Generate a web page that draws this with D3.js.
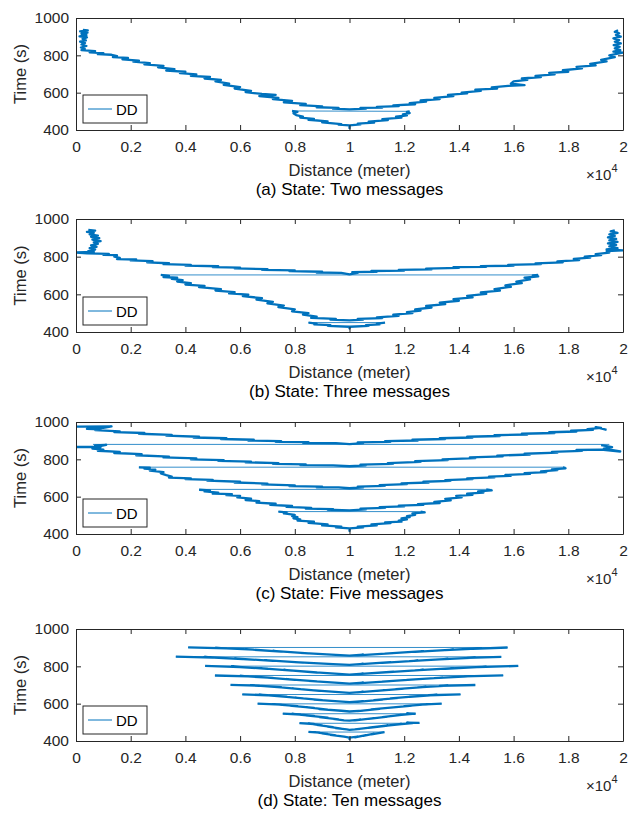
<!DOCTYPE html>
<html><head><meta charset="utf-8">
<script src="https://cdn.jsdelivr.net/npm/d3@7"></script>
<style>
body{margin:0;background:#fff}
svg{display:block}
text{font-family:"Liberation Sans",Arial,Helvetica,sans-serif}
</style>
</head><body>
<svg id="chart" width="628" height="813"></svg>
<script>
// ---------------- data ----------------
const xTickValues = [0,2000,4000,6000,8000,10000,12000,14000,16000,18000,20000];
const xTickLabels = ["0","0.2","0.4","0.6","0.8","1","1.2","1.4","1.6","1.8","2"];
const yTickValues = [400,600,800,1000];
const yTickLabels = ["400","600","800","1000"];
const xLabel = "Distance (meter)";
const yLabel = "Time (s)";
const legendLabel = "DD";
const panelCaptions = ["(a) State: Two messages","(b) State: Three messages","(c) State: Five messages","(d) State: Ten messages"];

// (a) two messages : [distance m, time s]
const twoMsgLines = [
 [[250,936],[430,934],[150,928],[420,922],[200,915],[380,908],[130,902],[400,896],[240,888],[360,880],[150,873],[330,866],[200,858],[380,850],[180,842],[320,835],[200,828],
  [700,822],[500,816],[1000,812],[800,806],[1300,803],[1500,796],[1350,790],[1900,786],[1700,778],[2300,772],[2100,766],[2700,758],[2500,752],[3200,743],[3000,736],[3600,726],[3300,718],[4000,712],[3800,705],[4400,698],[4200,690],[4900,684],[4700,676],[5300,668],[5100,660],[5600,648],[5400,642],[6000,630],[5800,622],[6400,610],[6200,603],[6800,593],[7300,588],[6700,582],[7400,572],[7200,565],[7900,556],[7600,548],[8400,540],[8200,533],[9000,527],[8800,522],[9600,518],[9400,514],[10000,510],
  [10600,514],[10400,518],[11200,520],[11000,524],[11800,528],[11600,532],[12400,538],[12200,544],[12800,552],[12600,558],[13300,566],[13100,572],[13800,582],[13600,588],[14300,596],[14100,600],[14800,610],[14600,616],[15400,622],[15200,628],[15800,636],[16400,640],[15900,648],[16000,660],[16500,668],[16300,676],[17000,684],[16800,690],[17500,698],[17300,706],[18000,712],[17800,720],[18500,730],[18300,738],[19000,746],[18800,754],[19400,768],[19200,776],[19700,790],[19500,800],[20000,815],
  [19650,820],[19900,828],[19700,837],[19880,846],[19660,855],[19920,864],[19700,873],[19860,882],[19650,891],[19920,900],[19740,909],[19860,918],[19700,926],[19820,934]],
 [[7900,502],[8100,497],[7950,490],[8050,480],[8300,472],[8200,466],[8700,460],[8500,455],[9200,446],[9000,441],[9700,432],[9600,429],[10000,425],[10000,410],[10000,425],
  [10400,430],[10300,434],[10900,440],[10700,445],[11400,453],[11200,458],[11900,466],[11700,471],[12100,478],[11950,484],[12200,491],[12100,497],[12200,500]]
];
const twoMsgLinks = [ [[7900,502],[12200,500]] ];

// (b) three messages
const threeMsgLines = [
 [[450,942],[700,938],[400,932],[650,926],[500,918],[800,912],[550,905],[850,898],[600,890],[900,883],[650,876],[800,868],[550,860],[750,852],[500,845],[700,838],[450,830],[650,825],[0,822],[400,818],[1200,815],[1000,810],[1500,808],[1400,800],[1600,793],[1500,787],[2200,785],[2000,780],[2800,776],[2600,770],[3400,765],[3200,760],[4200,756],[4000,752],[5200,749],[5000,745],[6000,742],[5800,738],[7000,734],[6800,730],[8000,727],[7800,723],[9000,720],[8800,716],[9700,714],[10000,706],
  [10300,714],[10100,718],[11000,720],[10800,724],[12000,726],[11800,730],[13000,732],[12800,736],[14000,740],[13800,744],[15000,746],[14800,750],[16000,752],[15800,756],[17000,760],[16800,764],[17800,770],[17600,775],[18400,782],[18200,788],[18800,795],[18600,800],[19200,808],[19000,814],[19500,822],[19400,830],[20000,833],
  [19400,838],[19800,845],[19500,855],[19750,862],[19450,870],[19800,878],[19500,886],[19750,894],[19450,902],[19700,910],[19500,918],[19800,926],[19550,934],[19700,940]],
 [[3100,703],[3400,698],[3200,692],[3700,688],[3500,682],[3900,676],[3700,668],[4200,660],[4000,652],[4700,645],[4500,638],[5300,628],[5100,620],[5800,612],[5600,605],[6300,598],[6100,590],[6800,580],[6600,572],[7200,560],[7000,552],[7600,540],[7400,532],[8000,520],[7900,510],[8500,500],[8300,492],[8800,482],[8600,475],[9500,470],[9300,466],[10000,462],
  [10500,466],[10300,470],[11200,474],[11000,478],[11800,486],[11600,492],[12300,500],[12100,506],[12600,514],[12400,520],[13000,530],[12800,538],[13500,548],[13300,556],[14000,566],[13800,574],[14500,584],[14300,592],[15000,602],[14800,610],[15500,620],[15300,628],[15900,640],[15700,648],[16300,660],[16100,668],[16600,680],[16400,688],[16900,695],[16700,700],[16900,703]],
 [[8500,450],[8800,445],[8700,441],[9300,437],[9200,433],[10000,428],[10000,418],[10000,428],[10700,433],[10600,437],[11100,441],[11000,445],[11300,450]]
];
const threeMsgLinks = [ [[3100,703],[16900,703]], [[8500,450],[11300,450]] ];

// (c) five messages
const fiveMsgLines = [
 [[0,975],[1300,976],[1000,968],[400,963],[900,960],[700,956],[1600,950],[1400,946],[2500,941],[2300,937],[3500,931],[3300,927],[4500,921],[4300,917],[5500,913],[5300,909],[6500,905],[6300,901],[7500,898],[7300,894],[8500,892],[8300,888],[9500,887],[10000,882],
  [10500,887],[10300,891],[11500,894],[11300,898],[12500,901],[12300,905],[13500,909],[13300,913],[14500,917],[14300,921],[15500,925],[15300,929],[16500,933],[16300,937],[17500,941],[17300,945],[18300,949],[18100,953],[18900,958],[18700,962],[19200,968],[19000,972],[19300,962],[19400,958]],
 [[0,866],[700,866],[1100,878],[700,874],[900,866],[600,858],[1000,852],[800,846],[1600,840],[1400,834],[2400,828],[2200,822],[3400,815],[3200,810],[4400,805],[4200,800],[5400,796],[5200,792],[6400,788],[6200,784],[7400,780],[7200,776],[8400,773],[8200,769],[9400,768],[10000,763],
  [10600,768],[10400,772],[11600,776],[11400,780],[12600,786],[12400,790],[13600,796],[13400,800],[14600,806],[14400,810],[15600,816],[15400,820],[16600,826],[16400,830],[17600,836],[17400,840],[18500,845],[18300,850],[19200,852],[19900,842],[19300,858],[19600,866],[19200,876]],
 [[2300,757],[2700,755],[2500,750],[2900,745],[2700,740],[3200,732],[3100,725],[3300,715],[3500,708],[3400,702],[4200,698],[4000,694],[5000,690],[4800,686],[6000,680],[5800,676],[7000,670],[6800,666],[8000,661],[7800,657],[9000,654],[8800,650],[9600,650],[10000,645],
  [10500,650],[10300,654],[11300,658],[11100,662],[12100,667],[11900,671],[12900,676],[12700,680],[13700,685],[13500,689],[14500,694],[14300,698],[15300,703],[15100,707],[15900,712],[15700,716],[16600,722],[16400,726],[17200,732],[17000,736],[17600,742],[17400,746],[17900,752],[17800,757]],
 [[4500,637],[4900,634],[4700,628],[5200,622],[5000,616],[5700,614],[5500,608],[6000,604],[5900,596],[6400,590],[6200,582],[6700,576],[6600,568],[7300,562],[7100,556],[7900,550],[7700,545],[8600,540],[8400,536],[9400,533],[9200,530],[10000,527],
  [10600,532],[10400,536],[11300,540],[11100,544],[12000,548],[11800,552],[12700,556],[12500,560],[13300,566],[13100,572],[13700,580],[13500,588],[14100,596],[13900,604],[14500,610],[14300,616],[14900,622],[14700,628],[15200,634],[15000,639]],
 [[7400,520],[7700,516],[7600,510],[8000,503],[7900,496],[8100,490],[7950,484],[8200,478],[8100,472],[8700,466],[8500,460],[9200,452],[9000,446],[9700,440],[9500,436],[10000,430],[10000,416],[10000,430],
  [10500,436],[10300,440],[11000,446],[10800,452],[11500,458],[11300,462],[11900,466],[11800,472],[12100,478],[11900,484],[12200,490],[12100,496],[12400,503],[12300,510],[12750,516],[12600,520]]
];
const fiveMsgLinks = [ [[620,880],[19500,880]], [[2300,758],[17900,758]], [[4500,639],[15200,639]], [[7400,520],[12750,520]] ];

// (d) ten messages
const tenMsgLines = [
 [[4100,902],[5500,896],[5100,899],[6500,889],[6200,892],[7500,879],[7200,883],[8500,869],[8200,872],[9500,861],[10000,857],[10500,862],[10300,859],[11600,871],[11300,868],[12700,881],[12400,878],[13800,890],[13500,887],[14800,897],[14500,894],[15780,901]],
 [[3650,852],[5000,847],[4700,850],[6100,839],[5800,842],[7200,829],[6900,833],[8300,820],[8000,823],[9400,812],[10000,808],[10500,813],[10300,810],[11500,822],[11200,819],[12500,831],[12200,828],[13600,840],[13300,837],[14600,847],[14300,845],[15550,851]],
 [[4720,802],[6000,796],[5700,799],[7000,787],[6700,790],[7900,777],[7600,781],[8800,767],[8500,770],[9600,760],[10000,756],[10500,761],[10300,758],[11600,771],[11300,768],[12700,781],[12400,778],[13800,790],[13500,787],[15000,798],[14700,796],[16170,802]],
 [[5080,751],[6300,746],[6000,749],[7200,738],[6900,741],[8000,728],[7700,732],[8800,719],[8500,722],[9600,711],[10000,707],[10500,712],[10300,709],[11500,721],[11200,718],[12400,730],[12100,727],[13400,740],[13100,737],[14500,748],[14200,746],[15620,752]],
 [[5650,701],[6700,696],[6400,699],[7500,688],[7200,691],[8200,678],[7900,682],[8900,669],[8600,672],[9600,662],[10000,658],[10500,663],[10300,660],[11300,672],[11000,669],[12000,681],[11700,678],[12800,690],[12500,687],[13600,697],[13300,695],[14600,700]],
 [[6080,650],[7000,645],[6700,648],[7700,637],[7400,640],[8300,628],[8000,632],[9000,619],[8700,622],[9600,612],[10000,608],[10500,613],[10300,610],[11200,622],[10900,619],[11800,631],[11500,628],[12500,640],[12200,637],[13200,647],[12900,645],[14060,650]],
 [[6640,600],[7500,595],[7200,598],[8100,587],[7800,590],[8700,577],[8400,581],[9200,568],[8900,571],[9700,562],[10000,558],[10500,563],[10300,560],[11100,572],[10800,569],[11700,581],[11400,578],[12300,590],[12000,587],[12900,597],[12600,595],[13370,600]],
 [[7560,547],[8200,542],[7900,545],[8700,534],[8400,537],[9200,525],[8900,528],[9600,516],[9400,519],[9800,511],[10000,509],[10400,514],[10200,511],[10900,522],[10700,519],[11400,531],[11200,528],[11900,540],[11700,537],[12300,545],[12100,548],[12420,546]],
 [[8170,496],[8700,491],[8500,494],[9000,483],[8800,486],[9400,474],[9200,477],[9700,466],[9500,469],[9900,462],[10000,460],[10400,465],[10200,462],[10900,474],[10700,471],[11400,483],[11200,480],[11900,491],[11700,488],[12300,496],[12100,498],[12560,497]],
 [[8500,449],[8900,445],[8700,448],[9200,438],[9000,441],[9500,430],[9300,433],[9800,423],[10000,418],[10000,410],[10000,418],[10300,423],[10200,420],[10600,431],[10500,428],[10900,439],[10800,436],[11280,448]]
];
const tenMsgLinks = [
 [[4100,901],[15780,901]], [[3650,851],[15550,851]], [[4720,801],[16170,801]], [[5080,751],[15620,751]], [[5650,700],[14600,700]],
 [[6080,649],[14060,649]], [[6640,599],[13370,599]], [[7560,546],[12420,546]], [[8170,495],[12560,495]], [[8500,448],[11280,448]]
];

// ---------------- layout ----------------
const panels = [
 {lines: twoMsgLines,   links: twoMsgLinks,   top: 18,  bottom: 130},
 {lines: threeMsgLines, links: threeMsgLinks, top: 219, bottom: 332},
 {lines: fiveMsgLines,  links: fiveMsgLinks,  top: 422, bottom: 534},
 {lines: tenMsgLines,   links: tenMsgLinks,   top: 629, bottom: 741}
];
const plotLeft = 76, plotRight = 623;
const lineColor = "#0072BD";
const axisColor = "#262626";

const svg = d3.select("#chart");

panels.forEach((p, i) => {
  const x = d3.scaleLinear().domain([0, 20000]).range([plotLeft, plotRight]);
  const y = d3.scaleLinear().domain([400, 1000]).range([p.bottom, p.top]);
  const line = d3.line().x(d => x(d[0])).y(d => y(d[1]));

  const clipId = "clip" + i;
  svg.append("clipPath").attr("id", clipId).append("rect")
    .attr("x", plotLeft).attr("y", p.top).attr("width", plotRight - plotLeft).attr("height", p.bottom - p.top);

  const g = svg.append("g").attr("clip-path", `url(#${clipId})`);
  g.selectAll("path.link").data(p.links).enter().append("path")
    .attr("class", "link").attr("d", line)
    .attr("fill", "none").attr("stroke", lineColor).attr("stroke-width", 1).attr("stroke-opacity", 0.8);
  g.selectAll("path.trace").data(p.lines).enter().append("path")
    .attr("class", "trace").attr("d", line)
    .attr("fill", "none").attr("stroke", lineColor).attr("stroke-width", 2.3).attr("stroke-linejoin", "round");

  // axes (MATLAB style, ticks inward, box)
  const fmtX = (d) => xTickLabels[xTickValues.indexOf(d)];
  const fmtY = (d) => yTickLabels[yTickValues.indexOf(d)];
  const ax = [
    svg.append("g").attr("transform", `translate(0,${p.bottom})`)
      .call(d3.axisBottom(x).tickValues(xTickValues).tickFormat(fmtX).tickSizeInner(-5).tickSizeOuter(0).tickPadding(10.5)),
    svg.append("g").attr("transform", `translate(0,${p.top})`)
      .call(d3.axisTop(x).tickValues(xTickValues).tickFormat("").tickSizeInner(-5).tickSizeOuter(0)),
    svg.append("g").attr("transform", `translate(${plotLeft},0)`)
      .call(d3.axisLeft(y).tickValues(yTickValues).tickFormat(fmtY).tickSizeInner(-5).tickSizeOuter(0).tickPadding(7)),
    svg.append("g").attr("transform", `translate(${plotRight},0)`)
      .call(d3.axisRight(y).tickValues(yTickValues).tickFormat("").tickSizeInner(-5).tickSizeOuter(0))
  ];
  ax.forEach(a => {
    a.selectAll("path.domain").attr("stroke", axisColor).attr("stroke-width", 1);
    a.selectAll(".tick line").attr("stroke", axisColor).attr("stroke-width", 1);
    a.selectAll(".tick text").attr("fill", axisColor).style("font-size", "15.5px")
      .style("font-family", '"Liberation Sans",Arial,Helvetica,sans-serif');
  });

  // y label
  svg.append("text")
    .attr("transform", `translate(26,${(p.top + p.bottom) / 2}) rotate(-90)`)
    .attr("text-anchor", "middle").attr("fill", axisColor).style("font-size", "16.5px")
    .text(yLabel);
  // x label
  svg.append("text").attr("x", (plotLeft + plotRight) / 2).attr("y", p.bottom + 46)
    .attr("text-anchor", "middle").attr("fill", axisColor).style("font-size", "16.5px")
    .text(xLabel);
  // exponent
  const ex = svg.append("text").attr("x", 586).attr("y", p.bottom + 50).attr("fill", axisColor).style("font-size", "15px");
  ex.append("tspan").text("\u00D710");
  ex.append("tspan").attr("dy", -8).style("font-size", "11px").text("4");
  // caption
  svg.append("text").attr("x", (plotLeft + plotRight) / 2).attr("y", p.bottom + 65)
    .attr("text-anchor", "middle").attr("fill", "#000").style("font-size", "17px")
    .text(panelCaptions[i]);

  // legend
  const lg = svg.append("g");
  lg.append("rect").attr("x", plotLeft + 7).attr("y", p.bottom - 35).attr("width", 64).attr("height", 28)
    .attr("fill", "#fff").attr("stroke", axisColor).attr("stroke-width", 1);
  lg.append("line").attr("x1", plotLeft + 12).attr("x2", plotLeft + 36)
    .attr("y1", p.bottom - 21).attr("y2", p.bottom - 21)
    .attr("stroke", lineColor).attr("stroke-width", 1);
  lg.append("text").attr("x", plotLeft + 40).attr("y", p.bottom - 15.5)
    .attr("fill", "#000").style("font-size", "15px").text(legendLabel);
});
</script>
</body></html>
